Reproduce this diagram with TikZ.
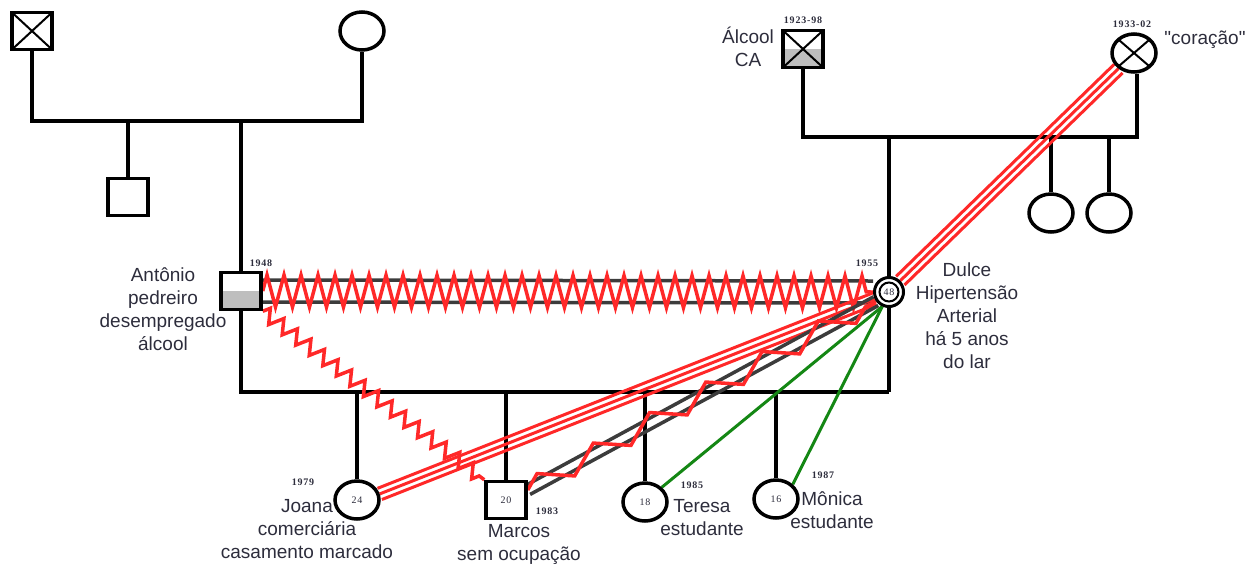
\documentclass[tikz,border=0pt]{standalone}
\usepackage{fontspec}
\setmainfont{Liberation Sans}
\newfontfamily\qfont{Liberation Sans}[Ligatures=TeXOff]
\newfontfamily\yrfont[LetterSpace=8]{Liberation Serif}
\usetikzlibrary{calc,decorations.pathmorphing,shapes.geometric}
\pgfdeclarelayer{bg}\pgfsetlayers{bg,main}
\definecolor{relred}{RGB}{255,40,40}
\definecolor{relgreen}{RGB}{20,135,20}
\definecolor{relgray}{RGB}{60,60,60}
\definecolor{txt}{RGB}{45,45,60}
\definecolor{halfg}{RGB}{190,190,190}
\newcommand{\tripleline}[2]{%
  \draw[redl] (#1) -- (#2);
  \draw[redl] ($(#1)!6pt!90:(#2)$) -- ($(#2)!6pt!-90:(#1)$);
  \draw[redl] ($(#1)!6pt!-90:(#2)$) -- ($(#2)!6pt!90:(#1)$);}
\newcommand{\doubleline}[3]{%
  \draw[grayl] ($(#1)!#3!90:(#2)$) -- ($(#2)!#3!-90:(#1)$);
  \draw[grayl] ($(#1)!#3!-90:(#2)$) -- ($(#2)!#3!90:(#1)$);}
\begin{document}
\begin{tikzpicture}[x=1pt,y=-1pt,
  fam/.style={line width=4.5pt},
  person/.style={draw, line width=3.5pt, fill=white, inner sep=0pt,
     font=\yrfont\fontsize{10}{12}\selectfont, text=txt},
  male/.style={person, rectangle, minimum width=40pt, minimum height=37pt},
  female/.style={person, ellipse, minimum width=44pt, minimum height=38pt},
  dead/.style={path picture={\draw[line width=2pt]
     (path picture bounding box.north west) -- (path picture bounding box.south east)
     (path picture bounding box.south west) -- (path picture bounding box.north east);}},
  halfgray/.style={path picture={\fill[halfg] (path picture bounding box.west)
     rectangle (path picture bounding box.south east);}},
  deadgray/.style={path picture={\fill[halfg] (path picture bounding box.west)
     rectangle (path picture bounding box.south east);
     \draw[line width=2pt]
     (path picture bounding box.north west) -- (path picture bounding box.south east)
     (path picture bounding box.south west) -- (path picture bounding box.north east);}},
  lbl/.style={font=\fontsize{19}{23}\selectfont, text=txt, align=center, inner sep=0pt},
  yr/.style={font=\yrfont\bfseries\fontsize{10}{12}\selectfont, text=txt, inner sep=0pt},
  redl/.style={draw=relred, line width=3pt},
  grayl/.style={draw=relgray, line width=3.5pt},
  grn/.style={draw=relgreen, line width=3pt},
  zz/.style={draw=relred, line width=3.5pt, decorate, decoration={zigzag,#1}}
]
\useasboundingbox (0,0) rectangle (1253,566);

% ---- persons ----
\node[male, dead] (GF) at (32,31) {};
\node[female] (GM) at (362,31) {};
\node[male] (U) at (128,197) {};
\node[male, halfgray] (A) at (241,291) {};

\node[male, deadgray] (GF2) at (803,49) {};
\node[female, dead] (GM2) at (1134,53) {};
\node[female] (AU1) at (1051,213) {};
\node[female] (AU2) at (1109,213) {};
\node[person, circle, line width=3pt, minimum size=29pt] (D) at (889,292) {48};

\node[female] (J) at (357,500) {24};
\node[male] (M) at (506,500) {20};
\node[female] (T) at (645,502) {18};
\node[female] (Mo) at (776,499) {16};

% ---- junction coordinates ----
\coordinate (l1) at (32,121);
\coordinate (l2) at (362,121);
\coordinate (r1) at (803,137);
\coordinate (r2) at (1137,137);
\coordinate (b1) at (241,392);
\coordinate (b2) at (889,392);

\begin{pgfonlayer}{bg}
% family lines
\draw[fam] (GF.south) -- (l1) -- (l2) -- (GM.south);
\draw[fam] (U.north) -- (U.north |- l1);
\draw[fam] (A.north) -- (A.north |- l1);
\draw[fam] (GF2.south) -- (r1) -- (r2) -- (r2 |- GM2.south);
\draw[fam] (AU1.north) -- (AU1.north |- r1);
\draw[fam] (AU2.north) -- (AU2.north |- r1);
\draw[fam] (D.center |- r1) -- (b2);
\draw[fam] (A.south) -- (b1) -- (b2);
\draw[fam] (J.north) -- (J.north |- b1);
\draw[fam] (M.north) -- (M.north |- b1);
\draw[fam] (T.north) -- (T.north |- b1);
\draw[fam] (Mo.north) -- (Mo.north |- b1);

% relations
\doubleline{A.east}{D.west}{11pt}
\draw[zz={amplitude=16pt, segment length=17pt}] (A.east) -- (D.west);
\tripleline{GM2.225}{D.45}
\tripleline{J.15}{D.205}
\doubleline{$(M.east)+(0,-10)$}{D.215}{5pt}
\draw[zz={amplitude=10pt, segment length=64pt}] ($(M.east)+(0,-10)$) -- (D.215);
\draw[zz={amplitude=7pt, segment length=17pt}] (A.south east) -- (M.north west);
\draw[grn] (D.245) -- (T.north east);
\draw[grn] (D.245) -- (Mo.north east);
\end{pgfonlayer}
\draw[line width=2pt] (D) circle (9.5pt);

% ---- labels ----
\node[lbl] (lA) at (163,309) {Antônio\\pedreiro\\desempregado\\álcool};
\node[lbl] (lD) at (967,316) {Dulce\\Hipertensão\\Arterial\\há 5 anos\\do lar};
\node[lbl] (lJ) at (307,529) {Joana\\comerciária\\casamento marcado};
\node[lbl] (lM) at (519,544) {Marcos\\sem ocupação};
\node[lbl] (lT) at (702,518) {Teresa\\estudante};
\node[lbl] (lMo) at (832,510) {Mônica\\estudante};
\node[lbl] (lGF2) at (748,47) {Álcool\\CA};
\node[lbl, font=\qfont\fontsize{19}{23}\selectfont] (lGM2) at (1205,40) {"coração"};

\node[yr] (yA) at (261,263) {1948};
\node[yr] (yD) at (867,263) {1955};
\node[yr] (yGF2) at (803,20) {1923-98};
\node[yr] (yGM2) at (1132,24) {1933-02};
\node[yr] (yJ) at (303,482) {1979};
\node[yr] (yM) at (547,511) {1983};
\node[yr] (yT) at (692,485) {1985};
\node[yr] (yMo) at (823,475) {1987};
\end{tikzpicture}
\end{document}
